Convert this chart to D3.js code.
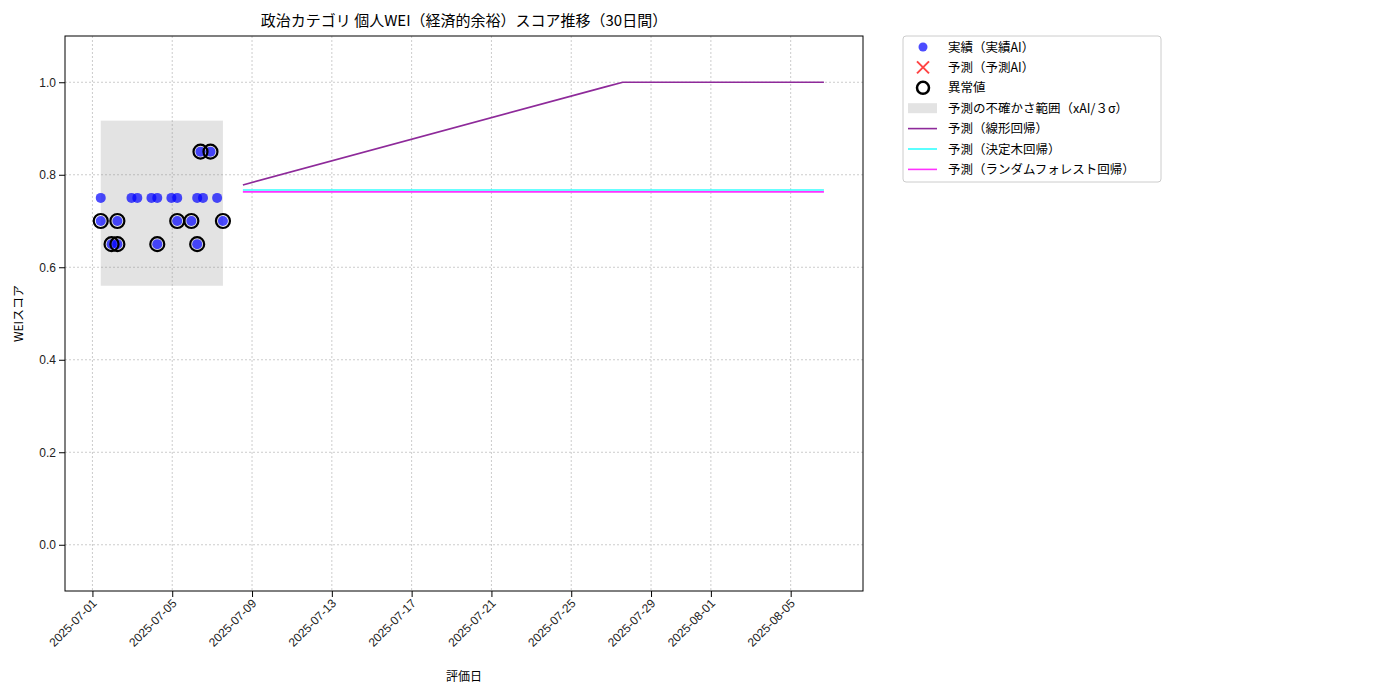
<!DOCTYPE html>
<html><head><meta charset="utf-8">
<script src="https://cdn.jsdelivr.net/npm/d3@7"></script>
<style>body{margin:0;background:#fff;font-family:"Noto Sans CJK JP","Noto Sans",sans-serif}</style>
</head><body><div id="chart"></div>
<script>
// actual scores (date-time, value)
const actualDates = ["2025-07-01T10:00","2025-07-01T10:00","2025-07-01T23:00","2025-07-02T06:00","2025-07-02T06:00","2025-07-02T23:00","2025-07-03T06:00","2025-07-03T23:00","2025-07-04T06:00","2025-07-04T06:00","2025-07-04T23:00","2025-07-05T06:00","2025-07-05T06:00","2025-07-05T23:00","2025-07-06T06:00","2025-07-06T06:00","2025-07-06T10:00","2025-07-06T13:00","2025-07-06T22:00","2025-07-07T06:00","2025-07-07T13:00"];
const actualValues = [0.75,0.70,0.65,0.70,0.65,0.75,0.75,0.75,0.75,0.65,0.75,0.75,0.70,0.70,0.75,0.65,0.85,0.75,0.85,0.75,0.70];
const anomalyFlags = [0,1,1,1,1,0,0,0,0,1,0,0,1,1,0,1,1,0,1,0,1];
const bandStart = "2025-07-01T10:00", bandEnd = "2025-07-07T13:00";
const bandLow = 0.56, bandHigh = 0.917;
const linDates = ["2025-07-08T13:00","2025-07-26T17:00","2025-07-27T14:00","2025-08-06T16:00"];
const linValues = [0.778,0.99,1.0,1.0];
const treeDates = ["2025-07-08T13:00","2025-08-06T16:00"];
const treeValues = [0.767,0.767];
const rfValues = [0.763,0.763];
const xTicks = ["2025-07-01","2025-07-05","2025-07-09","2025-07-13","2025-07-17","2025-07-21","2025-07-25","2025-07-29","2025-08-01","2025-08-05"];
const yTicks = [0,0.2,0.4,0.6,0.8,1.0];

const p = d3.timeParse("%Y-%m-%dT%H:%M"), pd = d3.timeParse("%Y-%m-%d");
const W=1400,H=700,L=65,R=863,T=36,B=591;
const svg = d3.select("#chart").append("svg").attr("width",W).attr("height",H);
const x = d3.scaleTime().domain([p("2025-06-29T15:00"), p("2025-08-08T15:00")]).range([L,R]);
const y = d3.scaleLinear().domain([-0.1,1.1]).range([B,T]);

// grid
svg.append("g").selectAll("line").data(xTicks).join("line")
  .attr("x1",d=>x(pd(d))).attr("x2",d=>x(pd(d))).attr("y1",T).attr("y2",B)
  .attr("stroke","#ccc").attr("stroke-dasharray","2,2");
svg.append("g").selectAll("line").data(yTicks).join("line")
  .attr("y1",d=>y(d)).attr("y2",d=>y(d)).attr("x1",L).attr("x2",R)
  .attr("stroke","#ccc").attr("stroke-dasharray","2,2");

// band
svg.append("rect").attr("x",x(p(bandStart))).attr("width",x(p(bandEnd))-x(p(bandStart)))
  .attr("y",y(bandHigh)).attr("height",y(bandLow)-y(bandHigh)).attr("fill","#808080").attr("opacity",0.22);

const line = d3.line().x(d=>x(d[0])).y(d=>y(d[1]));
const lines = [[linDates,linValues,"#8e2a9a"],[treeDates,treeValues,"#33ffff"],[treeDates,rfValues,"#ff33ff"]];
lines.forEach(([ds,vs,c])=>svg.append("path").datum(ds.map((d,i)=>[p(d),vs[i]]))
  .attr("d",line).attr("fill","none").attr("stroke",c).attr("stroke-width",1.6));

const pts = actualDates.map((d,i)=>({t:p(d),v:actualValues[i],a:anomalyFlags[i]}));
svg.append("g").selectAll("circle").data(pts).join("circle")
  .attr("cx",d=>x(d.t)).attr("cy",d=>y(d.v)).attr("r",5).attr("fill","#0000ff").attr("fill-opacity",0.7);
svg.append("g").selectAll("circle").data(pts.filter(d=>d.a)).join("circle")
  .attr("cx",d=>x(d.t)).attr("cy",d=>y(d.v)).attr("r",7).attr("fill","none").attr("stroke","#000").attr("stroke-width",2.2);

// axes
const xa = svg.append("g").attr("transform",`translate(0,${B})`)
  .call(d3.axisBottom(x).tickValues(xTicks.map(pd)).tickFormat(d3.timeFormat("%Y-%m-%d")).tickSizeOuter(0));
xa.selectAll("text").attr("transform","rotate(-45)").attr("text-anchor","end").attr("dx","-0.5em").attr("dy","0.3em");
const ya = svg.append("g").attr("transform",`translate(${L},0)`)
  .call(d3.axisLeft(y).tickValues(yTicks).tickFormat(d3.format(".1f")).tickSizeOuter(0));
[xa,ya].forEach(a=>{a.selectAll("text").style("font-size","12px").style("font-family","inherit").attr("fill","#222");a.select(".domain").remove();});
svg.append("rect").attr("x",L).attr("y",T).attr("width",R-L).attr("height",B-T).attr("fill","none").attr("stroke","#000");

svg.append("text").attr("x",(L+R)/2).attr("y",26).attr("text-anchor","middle").style("font-size","15px").text("政治カテゴリ 個人WEI（経済的余裕）スコア推移（30日間）");
svg.append("text").attr("x",(L+R)/2).attr("y",681).attr("text-anchor","middle").style("font-size","12px").text("評価日");
svg.append("text").attr("transform",`translate(23,${(T+B)/2}) rotate(-90)`).attr("text-anchor","middle").style("font-size","12px").text("WEIスコア");

// legend
const lg = svg.append("g").attr("transform","translate(903,36)");
lg.append("rect").attr("width",258).attr("height",146).attr("rx",3).attr("fill","#fff").attr("stroke","#ccc");
const items = ["実績（実績AI）","予測（予測AI）","異常値","予測の不確かさ範囲（xAI/３σ）","予測（線形回帰）","予測（決定木回帰）","予測（ランダムフォレスト回帰）"];
items.forEach((t,i)=>{
  const cy = 11+i*20.4, g = lg.append("g");
  if(i==0) g.append("circle").attr("cx",20).attr("cy",cy).attr("r",4.5).attr("fill","#0000ff").attr("fill-opacity",0.7);
  if(i==1) g.append("path").attr("d",`M14,${cy-6}L26,${cy+6}M14,${cy+6}L26,${cy-6}`).attr("stroke","#ff4444").attr("stroke-width",2);
  if(i==2) g.append("circle").attr("cx",20).attr("cy",cy).attr("r",6).attr("fill","none").attr("stroke","#000").attr("stroke-width",2.5);
  if(i==3) g.append("rect").attr("x",5).attr("y",cy-5).attr("width",29).attr("height",10).attr("fill","#e3e3e3");
  if(i>=4) g.append("line").attr("x1",5).attr("x2",34).attr("y1",cy).attr("y2",cy).attr("stroke",lines[i-4][2]).attr("stroke-width",1.6);
  g.append("text").attr("x",45).attr("y",cy+4.5).style("font-size","12.5px").text(t);
});
</script></body></html>
